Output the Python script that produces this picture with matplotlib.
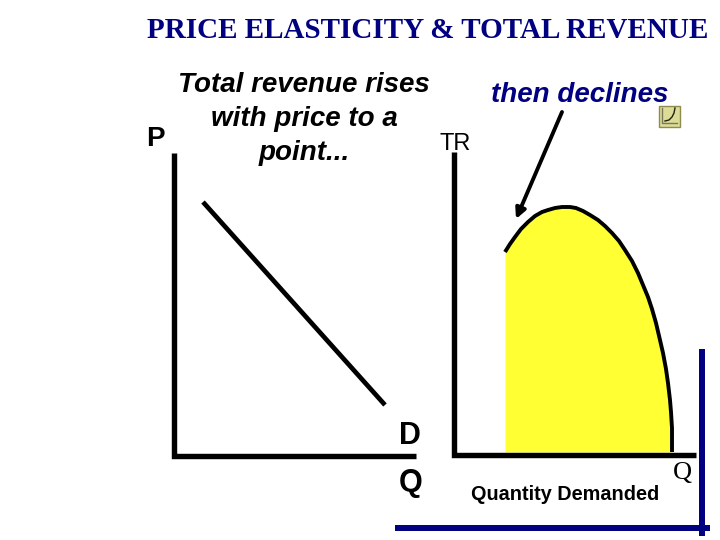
"""Price elasticity and total revenue slide."""
from matplotlib import pyplot as plt
from matplotlib.patches import Rectangle

NAVY = "#000080"
SANS = ["Liberation Sans", "DejaVu Sans"]
SERIF = ["Liberation Serif", "DejaVu Serif"]

# demand line
demand_q = [203, 385]
demand_p = [202, 405]

# total revenue curve
revenue_q = [505, 510, 515, 521, 528, 535, 542, 548, 555, 562, 570, 576, 583, 590, 598,
             605, 612, 619, 625, 632, 638, 643, 648, 652, 656, 660, 663, 666, 668, 670, 671, 672, 672]
revenue_tr = [252, 244, 237, 229, 222, 216, 212, 210, 208, 207, 207, 208, 211, 215, 220,
              226, 233, 241, 250, 261, 273, 285, 297, 309, 323, 340, 353, 369, 383, 400, 412, 428, 452]
revenue_floor = 452

left_axis_q = [174, 174, 416]
left_axis_p = [153, 456, 456]
right_axis_q = [454, 454, 696]
right_axis_tr = [152, 455, 455]

frame_bottom_q = [395, 710]
frame_bottom_y = [527.5, 527.5]
frame_right_q = [702, 702]
frame_right_y = [349, 535.5]

arrow_start = (562, 112)
arrow_end = (516, 219)

icon_axis_q = [662, 662, 677]
icon_axis_y = [108, 123, 123]
icon_curve_q = [665, 669, 672, 674, 675]
icon_curve_y = [121, 120, 117, 113, 108]


def main():
    """Draw the slide and save it."""
    figure = plt.figure(figsize=(7.2, 5.4), dpi=100)
    ax = figure.add_axes([0, 0, 1, 1])
    ax.set_xlim(0, 720)
    ax.set_ylim(540, 0)
    ax.axis("off")

    ax.fill_between(revenue_q, revenue_tr, revenue_floor, color="#ffff33", lw=0, zorder=1)
    ax.plot(revenue_q, revenue_tr, color="black", lw=2.8, solid_capstyle="butt", zorder=2)
    ax.plot(demand_q, demand_p, color="black", lw=3.4, solid_capstyle="butt")
    ax.plot(left_axis_q, left_axis_p, color="black", lw=3.9, solid_joinstyle="miter", solid_capstyle="butt")
    ax.plot(right_axis_q, right_axis_tr, color="black", lw=3.9, solid_joinstyle="miter",
            solid_capstyle="butt", zorder=3)

    ax.plot(frame_bottom_q, frame_bottom_y, color=NAVY, lw=4.3, solid_capstyle="butt")
    ax.plot(frame_right_q, frame_right_y, color=NAVY, lw=4.3, solid_capstyle="butt")

    ax.annotate(
        "",
        xy=arrow_end,
        xytext=arrow_start,
        arrowprops=dict(arrowstyle="-|>", color="black", lw=2.8, mutation_scale=15, shrinkA=0, shrinkB=0),
    )

    # small chart icon beside the label
    ax.add_patch(Rectangle((659, 106), 21, 21, fc="#dcdc96", ec="#8c8c50", lw=1))
    ax.plot(icon_axis_q, icon_axis_y, color="#77775a", lw=1)
    ax.plot(icon_curve_q, icon_curve_y, color="#202015", lw=1)

    ax.text(428, 30, "PRICE ELASTICITY & TOTAL REVENUE", color=NAVY, family=SERIF,
            weight="bold", fontsize=21, ha="center", va="center")
    ax.text(304, 119, "Total revenue rises\nwith price to a\npoint...", color="black", family=SANS,
            weight="bold", style="italic", fontsize=20, ha="center", va="center", linespacing=1.38)
    ax.text(580, 95, "then declines", color=NAVY, family=SANS, weight="bold", style="italic",
            fontsize=20, ha="center", va="center")
    ax.text(155, 139, "P", color="black", family=SANS, weight="bold", fontsize=20, ha="center", va="center")
    ax.text(455, 144, "TR", color="black", family=SANS, fontsize=17, ha="center", va="center")
    ax.text(410, 436, "D", color="black", family=SANS, weight="bold", fontsize=22, ha="center", va="center")
    ax.text(411, 483, "Q", color="black", family=SANS, weight="bold", fontsize=22, ha="center", va="center")
    ax.text(565, 495, "Quantity Demanded", color="black", family=SANS, weight="bold", fontsize=14.3,
            ha="center", va="center")
    ax.text(682, 473, "Q", color="black", family=SERIF, fontsize=19, ha="center", va="center")

    figure.savefig("out.png", dpi=100)
    plt.close(figure)


if __name__ == "__main__":
    main()
